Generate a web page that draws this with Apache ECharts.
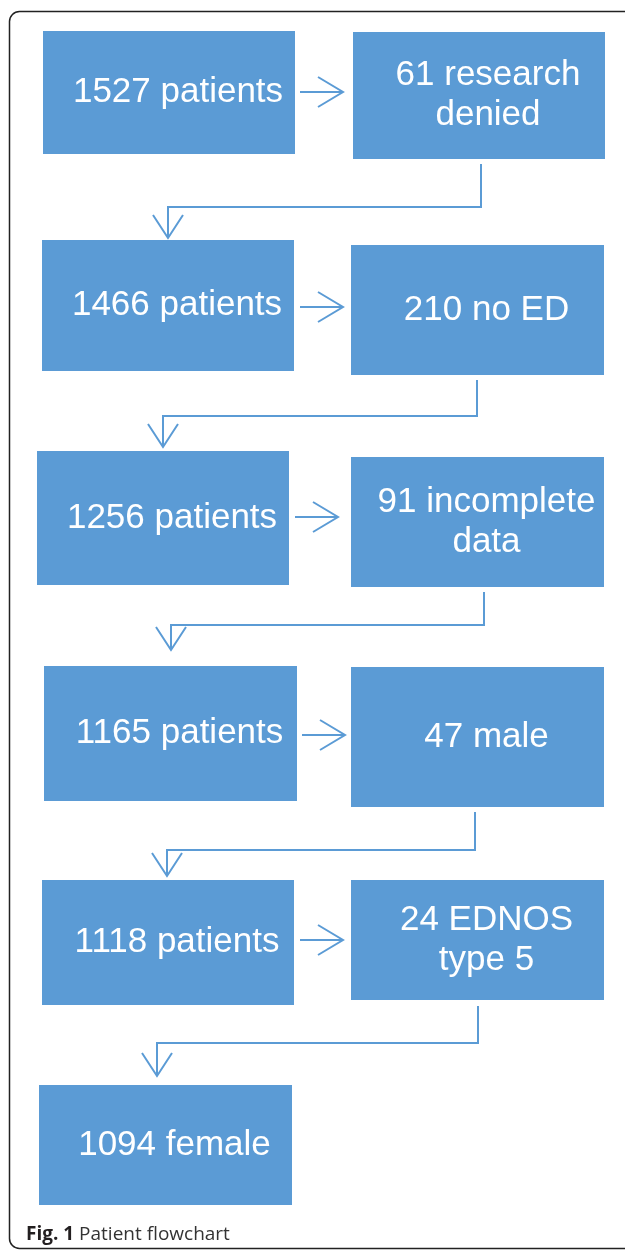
<!DOCTYPE html>
<html><head><meta charset="utf-8">
<script src="https://cdn.jsdelivr.net/npm/echarts@6/dist/echarts.min.js"></script>
<style>html,body{margin:0;padding:0;background:#fff}#c{width:625px;height:1251px}</style>
</head><body><div id="c"></div>
<script>
// ---- data ----
const stageLabels = ['1527 patients', '1466 patients', '1256 patients', '1165 patients', '1118 patients', '1094 female'];
const exclusionLabels = ['61 research\ndenied', '210 no ED', '91 incomplete\ndata', '47 male', '24 EDNOS\ntype 5'];
const captionBold = 'Fig. 1';
const captionText = 'Patient flowchart';

// ---- layout (pixel-space positions on hidden axes) ----
const stageBoxes = [[43,31,295,154],[42,240,294,371],[37,451,289,585],[44,666,297,801],[42,880,294,1005],[39,1085,292,1205]];
const exclusionBoxes = [[353,32,605,159],[351,245,604,375],[351,457,604,587],[351,667,604,807],[351,880,604,1000]];
const sideArrows = [[300,343,92],[300,343,307],[295,338,517],[302,345,735],[300,343,940]];
const downConnectors = [
  [[481,164],[481,207],[168,207],[168,238]],
  [[477,380],[477,416],[163,416],[163,447]],
  [[484,592],[484,625],[171,625],[171,650]],
  [[475,812],[475,850],[167,850],[167,876]],
  [[478,1006],[478,1043],[157,1043],[157,1076]]
];
const BLUE = '#5B9BD5';
const textShiftX = 9;

const boxData = [];
stageBoxes.forEach((b, i) => boxData.push({value: b.concat([0, i])}));
exclusionBoxes.forEach((b, i) => boxData.push({value: b.concat([1, i])}));

function renderBox(params, api) {
  const p0 = api.coord([api.value(0), api.value(1)]);
  const p1 = api.coord([api.value(2), api.value(3)]);
  const kind = api.value(4), idx = api.value(5);
  const label = kind === 0 ? stageLabels[idx] : exclusionLabels[idx];
  return {
    type: 'group',
    children: [
      {type: 'rect', shape: {x: p0[0], y: p0[1], width: p1[0]-p0[0], height: p1[1]-p0[1]}, style: {fill: BLUE}},
      {type: 'text', x: (p0[0]+p1[0])/2 + textShiftX, y: (p0[1]+p1[1])/2,
        style: {text: label, fill: '#fff', fontFamily: 'Liberation Sans', fontSize: 35, align: 'center', verticalAlign: 'middle', lineHeight: 40}}
    ]
  };
}

const sideData = sideArrows.map(a => ({value: a}));
function renderSide(params, api) {
  const a = api.coord([api.value(0), api.value(2)]);
  const b = api.coord([api.value(1), api.value(2)]);
  const ls = {stroke: BLUE, lineWidth: 2, fill: 'none'};
  return {type: 'group', children: [
    {type: 'line', shape: {x1: a[0], y1: a[1], x2: b[0], y2: b[1]}, style: ls},
    {type: 'polyline', shape: {points: [[b[0]-25, b[1]-15],[b[0], b[1]],[b[0]-25, b[1]+15]]}, style: ls}
  ]};
}

const downData = downConnectors.map(c => ({value: [].concat(...c)}));
function renderDown(params, api) {
  const pts = [];
  for (let k = 0; k < 4; k++) pts.push(api.coord([api.value(2*k), api.value(2*k+1)]));
  const tip = pts[3];
  const ls = {stroke: BLUE, lineWidth: 2, fill: 'none'};
  return {type: 'group', children: [
    {type: 'polyline', shape: {points: pts}, style: ls},
    {type: 'polyline', shape: {points: [[tip[0]-15, tip[1]-23],[tip[0], tip[1]],[tip[0]+15, tip[1]-23]]}, style: ls}
  ]};
}

const chart = echarts.init(document.getElementById('c'), null, {renderer: 'canvas'});
chart.setOption({
  animation: false,
  grid: {left: 0, right: 0, top: 0, bottom: 0},
  xAxis: {type: 'value', min: 0, max: 625, show: false},
  yAxis: {type: 'value', min: 0, max: 1251, inverse: true, show: false},
  graphic: [
    {type: 'rect', shape: {x: 9.5, y: 11.5, width: 630, height: 1237, r: 10}, style: {fill: 'none', stroke: '#222', lineWidth: 1.5}, z: 0},
    {type: 'text', x: 26, y: 1235, style: {
      text: '{b|' + captionBold + '} ' + captionText,
      fontFamily: 'Open Sans', fontSize: 19, fill: '#333', verticalAlign: 'middle',
      rich: {b: {fontWeight: 'bold', fontSize: 19, fontFamily: 'Open Sans', fill: '#231f20'}}
    }}
  ],
  series: [
    {type: 'custom', coordinateSystem: 'cartesian2d', renderItem: renderBox, data: boxData, silent: true},
    {type: 'custom', coordinateSystem: 'cartesian2d', renderItem: renderSide, data: sideData, silent: true},
    {type: 'custom', coordinateSystem: 'cartesian2d', renderItem: renderDown, data: downData, silent: true}
  ]
});
</script></body></html>
